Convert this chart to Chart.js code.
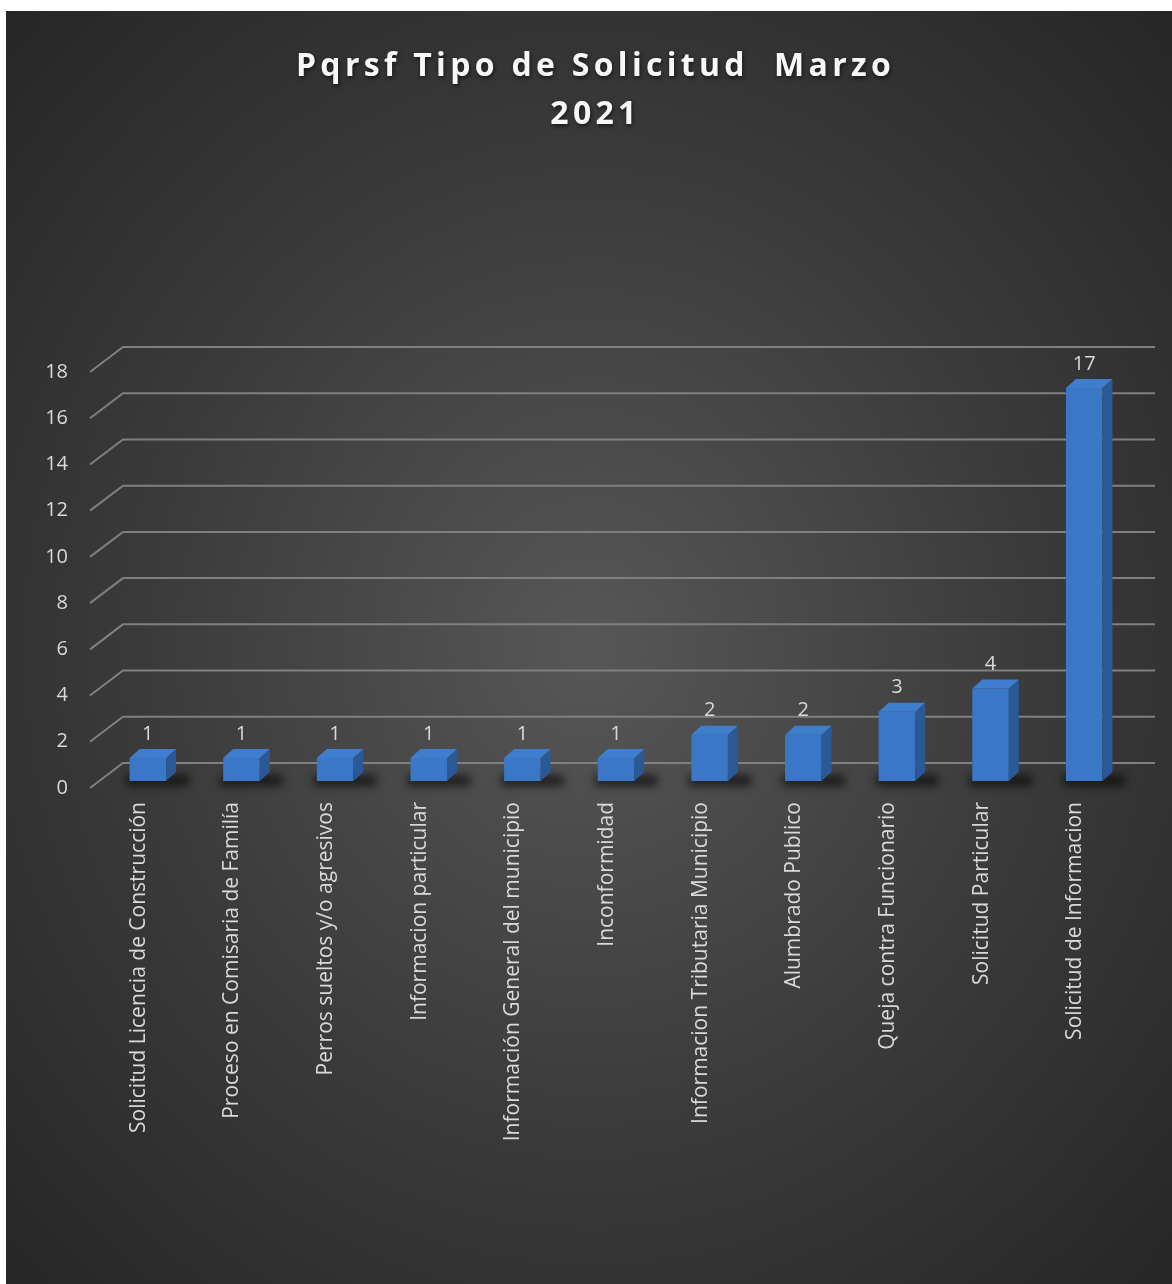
<!DOCTYPE html>
<html>
<head>
<meta charset="utf-8">
<script src="https://cdn.jsdelivr.net/npm/chart.js@4"></script>
<style>
  body { margin: 0; background: #fff; }
  #panel {
    position: absolute; left: 6px; top: 11px; width: 1166px; height: 1273px;
    background: radial-gradient(ellipse farthest-corner at 50% 50%, #575757 0%, #3a3a3a 55%, #262626 100%);
  }
</style>
</head>
<body>
<div id="panel"><canvas id="bar-chart" width="1166" height="1273"></canvas></div>
<script>
const categories = [
  "Solicitud Licencia de Construcción",
  "Proceso en Comisaria de Familía",
  "Perros sueltos y/o agresivos",
  "Informacion particular",
  "Información General del municipio",
  "Inconformidad",
  "Informacion Tributaria Municipio",
  "Alumbrado Publico",
  "Queja contra Funcionario",
  "Solicitud Particular",
  "Solicitud de Informacion"
];
const counts = [1, 1, 1, 1, 1, 1, 2, 2, 3, 4, 17];
const yMin = 0;
const yMax = 18;
const yStep = 2;

// fake 3D: side, top, floor shadow, skewed grid and value labels
const depth = { dx: 10, dy: -9 };
const bars3d = {
  id: "bars3d",
  afterLayout(chart) {
    // spaced, shadowed title like the Excel one
    const tb = chart.titleBlock;
    if (tb && !tb._spaced) {
      const draw = tb.draw.bind(tb);
      tb.draw = function () {
        const ctx = chart.ctx;
        ctx.save();
        ctx.translate(27, 2);
        ctx.letterSpacing = "4.3px";
        ctx.shadowColor = "rgba(0,0,0,0.6)";
        ctx.shadowBlur = 4;
        ctx.shadowOffsetX = 1;
        ctx.shadowOffsetY = 2;
        draw();
        ctx.restore();
        ctx.letterSpacing = "0px";
      };
      tb._spaced = true;
    }
  },
  beforeDatasetsDraw(chart) {
    const { ctx, chartArea, scales } = chart;
    const y = scales.y;
    ctx.save();
    ctx.strokeStyle = "#808080";
    ctx.lineWidth = 2;
    y.ticks.forEach(t => {
      const p = y.getPixelForValue(t.value);
      ctx.beginPath();
      ctx.moveTo(chartArea.left - 11, p + 7);
      ctx.lineTo(chartArea.left + 22, p - 18);
      ctx.lineTo(chartArea.right + 24, p - 18);
      ctx.stroke();
    });
    const meta = chart.getDatasetMeta(0);
    ctx.filter = "blur(4px)";
    ctx.fillStyle = "rgba(0,0,0,0.6)";
    meta.data.forEach(bar => {
      const l = bar.x - bar.width / 2;
      ctx.fillRect(l - 3, bar.base - 6, bar.width + depth.dx + 16, 11);
    });
    ctx.restore();
  },
  afterDatasetsDraw(chart) {
    const { ctx } = chart;
    const meta = chart.getDatasetMeta(0);
    ctx.save();
    meta.data.forEach((bar, i) => {
      const l = bar.x - bar.width / 2;
      const r = bar.x + bar.width / 2;
      ctx.fillStyle = "#2a5996";
      ctx.beginPath();
      ctx.moveTo(r, bar.y);
      ctx.lineTo(r + depth.dx, bar.y + depth.dy);
      ctx.lineTo(r + depth.dx, bar.base + depth.dy);
      ctx.lineTo(r, bar.base);
      ctx.closePath();
      ctx.fill();
      ctx.fillStyle = "#3f7ecd";
      ctx.beginPath();
      ctx.moveTo(l, bar.y);
      ctx.lineTo(l + depth.dx, bar.y + depth.dy);
      ctx.lineTo(r + depth.dx, bar.y + depth.dy);
      ctx.lineTo(r, bar.y);
      ctx.closePath();
      ctx.fill();
      ctx.fillStyle = "#d9d9d9";
      ctx.font = "20px 'Open Sans'";
      ctx.textAlign = "center";
      ctx.textBaseline = "middle";
      ctx.fillText(String(counts[i]), bar.x, bar.y - 24);
    });
    ctx.restore();
  }
};

new Chart(document.getElementById("bar-chart"), {
  type: "bar",
  data: {
    labels: categories,
    datasets: [
      {
        label: "Pqrsf",
        data: counts,
        backgroundColor: "#3a77c6",
        categoryPercentage: 1,
        barPercentage: 0.39
      }
    ]
  },
  options: {
    responsive: false,
    animation: false,
    layout: { padding: { left: 0, right: 41, top: 0, bottom: 0 } },
    plugins: {
      legend: { display: false },
      tooltip: { enabled: false },
      title: {
        display: true,
        text: ["Pqrsf Tipo de Solicitud  Marzo", "2021"],
        color: "#f7f7f7",
        font: { family: "Open Sans", size: 32, weight: "bold", lineHeight: 1.5 },
        padding: { top: 30, bottom: 228 }
      }
    },
    scales: {
      x: {
        grid: { display: false, drawTicks: false },
        border: { display: false },
        ticks: {
          color: "#d9d9d9",
          font: { family: "Open Sans", size: 21 },
          maxRotation: 90,
          minRotation: 90,
          autoSkip: false,
          padding: 21,
          labelOffset: -9
        },
        afterFit(scale) { scale.height = 503; }
      },
      y: {
        min: yMin,
        max: yMax,
        grid: { display: false, drawTicks: false },
        border: { display: false },
        ticks: {
          stepSize: yStep,
          color: "#d9d9d9",
          font: { family: "Open Sans", size: 20 },
          padding: 33,
          labelOffset: 7
        },
        afterFit(scale) { scale.width = 95; }
      }
    }
  },
  plugins: [bars3d]
});
</script>
</body>
</html>
